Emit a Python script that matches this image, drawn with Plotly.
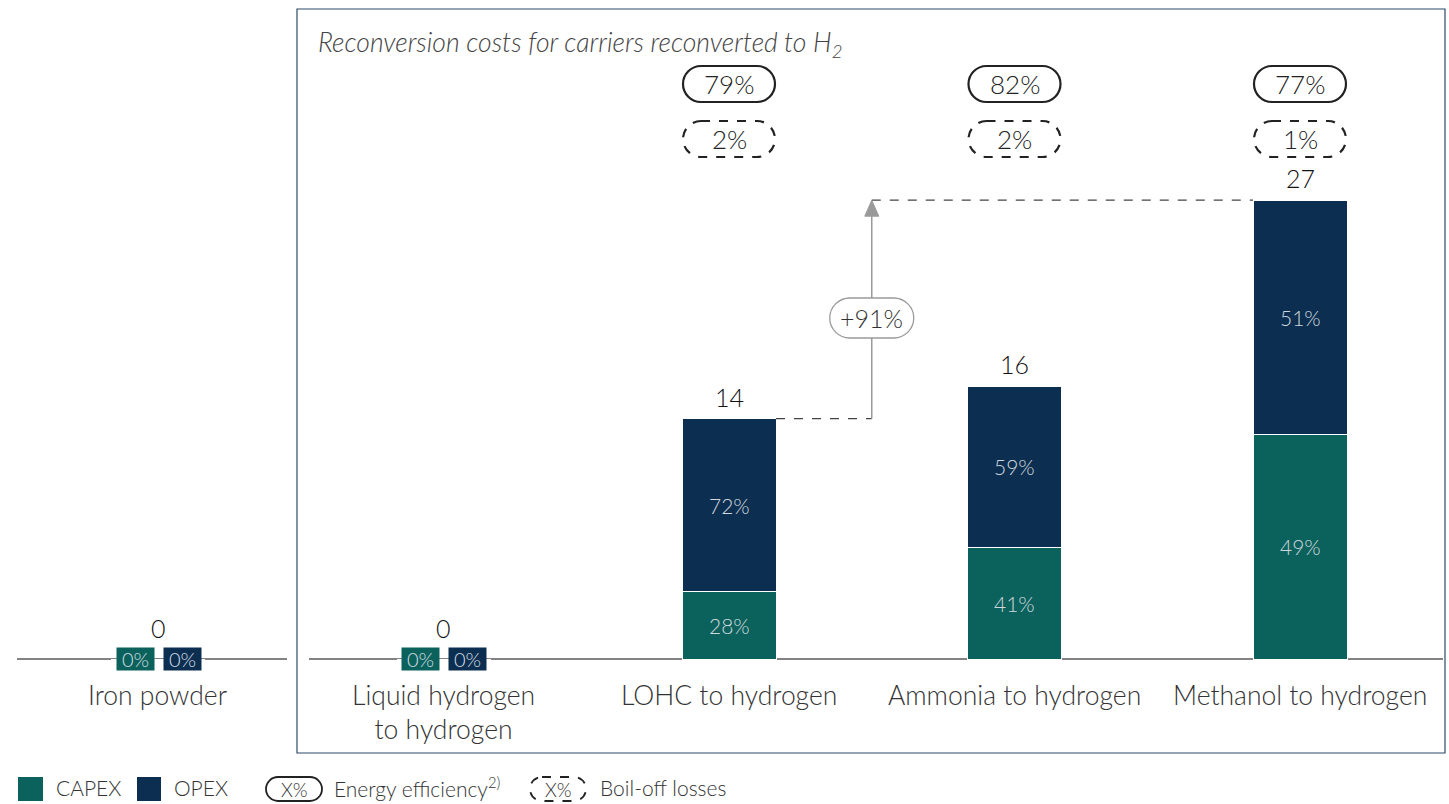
import plotly.graph_objects as go

# ---- data -------------------------------------------------------------
categories = ["Iron powder", "Liquid hydrogen<br>to hydrogen", "LOHC to hydrogen",
              "Ammonia to hydrogen", "Methanol to hydrogen"]
totals = [0, 0, 14.2, 16.1, 27.1]            # reconversion cost
capex_share = [0, 0, 28, 41, 49]             # % of total
opex_share = [0, 0, 72, 59, 51]              # % of total
efficiency = [None, None, "79%", "82%", "77%"]
boil_off = [None, None, "2%", "2%", "1%"]

CAPEX_COLOR = "#0b625c"
OPEX_COLOR = "#0c2e51"
FONT = "Lato"
WGT = 300

W, H = 1449, 804
# axis geometry: category i sits at pixel 158 + 285.5*i, baseline at pixel 659
PX_X = 285.5
PX_Y = 16.93
X0_PX, BASE_PX = 158, 659
x_range = [-X0_PX / PX_X, (W - X0_PX) / PX_X]
y_range = [-(H - BASE_PX) / PX_Y, BASE_PX / PX_Y]
BAR_W = 94 / PX_X

xs = list(range(len(categories)))
capex = [t * c / 100 for t, c in zip(totals, capex_share)]
opex = [t * o / 100 for t, o in zip(totals, opex_share)]


def f(size, color="#2b2b2b"):
    return dict(size=size, color=color, family=FONT, weight=WGT)


def py(p):
    """pixel row -> paper y"""
    return 1 - p / H


def px(p):
    """pixel column -> paper x"""
    return p / W


def pill_path(cx, cy, hw, hh, sx=1.0, sy=1.0):
    """rounded pill outline centred on (cx, cy); hw/hh in pixels, sx/sy px per unit"""
    r = hh
    w, h, rx, ry = hw / sx, hh / sy, r / sx, r / sy
    x0, x1, y0, y1 = cx - w, cx + w, cy - h, cy + h
    k = 0.5523
    return (f"M {x0+rx},{y1} L {x1-rx},{y1} "
            f"C {x1-rx+k*rx},{y1} {x1},{y1-ry+k*ry} {x1},{cy} "
            f"C {x1},{y0+ry-k*ry} {x1-rx+k*rx},{y0} {x1-rx},{y0} "
            f"L {x0+rx},{y0} "
            f"C {x0+rx-k*rx},{y0} {x0},{y0+ry-k*ry} {x0},{cy} "
            f"C {x0},{y1-ry+k*ry} {x0+rx-k*rx},{y1} {x0+rx},{y1} Z")


fig = go.Figure()
fig.add_trace(go.Bar(x=xs, y=capex, width=BAR_W, marker_color=CAPEX_COLOR,
                     marker_line=dict(color="white", width=1), name="CAPEX",
                     hoverinfo="skip"))
fig.add_trace(go.Bar(x=xs, y=opex, width=BAR_W, marker_color=OPEX_COLOR,
                     marker_line=dict(color="white", width=1), name="OPEX",
                     hoverinfo="skip"))

shapes = []
ann = []

# panel frame for the reconversion group
shapes.append(dict(type="rect", xref="paper", yref="paper",
                   x0=px(297), x1=px(1445), y0=py(753), y1=py(9),
                   line=dict(color="#2d4a68", width=1.2), layer="below"))
# baselines
shapes.append(dict(type="line", xref="paper", yref="y", x0=px(17), x1=px(287), y0=0, y1=0,
                   line=dict(color="#5a5a5a", width=1.5), layer="below"))
shapes.append(dict(type="line", xref="paper", yref="y", x0=px(309), x1=px(1443), y0=0, y1=0,
                   line=dict(color="#5a5a5a", width=1.5), layer="below"))

for i, cat in enumerate(categories):
    # category label
    ann.append(dict(x=i, y=py(677), xref="x", yref="paper", text=cat, showarrow=False,
                    yanchor="top", xanchor="center", font=f(26.5, "#333")))
    # total above the bar
    ann.append(dict(x=i, y=totals[i], xref="x", yref="y", text=f"{totals[i]:.0f}",
                    showarrow=False, yanchor="bottom", yshift=5 if totals[i] else 14,
                    font=f(25, "#111")))
    if totals[i] > 0:
        ann.append(dict(x=i, y=capex[i] / 2, xref="x", yref="y", text=f"{capex_share[i]}%",
                        showarrow=False, font=f(21, "#cfd6dc")))
        ann.append(dict(x=i, y=capex[i] + opex[i] / 2, xref="x", yref="y",
                        text=f"{opex_share[i]}%", showarrow=False, font=f(21, "#cfd6dc")))
    else:
        # zero-cost carriers: small share chips on the baseline
        for dx, col, share in ((-0.079, CAPEX_COLOR, capex_share[i]),
                               (0.085, OPEX_COLOR, opex_share[i])):
            ann.append(dict(x=i + dx, y=0, xref="x", yref="y", text=f"{share}%",
                            showarrow=False, bgcolor=col, borderpad=0, width=37, height=22,
                            font=f(20, "#d5dde3")))
    if efficiency[i]:
        cy = (BASE_PX - 84) / PX_Y
        shapes.append(dict(type="path", xref="x", yref="y",
                           path=pill_path(i, cy, 46, 18, PX_X, PX_Y),
                           line=dict(color="#222", width=2.2), fillcolor="white"))
        ann.append(dict(x=i, y=cy, xref="x", yref="y", text=efficiency[i],
                        showarrow=False, font=f(26, "#222")))
    if boil_off[i]:
        cy = (BASE_PX - 139) / PX_Y
        shapes.append(dict(type="path", xref="x", yref="y",
                           path=pill_path(i, cy, 46, 18, PX_X, PX_Y),
                           line=dict(color="#222", width=2.2, dash="dash"), fillcolor="white"))
        ann.append(dict(x=i, y=cy, xref="x", yref="y", text=boil_off[i],
                        showarrow=False, font=f(26, "#222")))

# LOHC -> Methanol cost step
lo, hi = totals[2], totals[4]
ax_x = 2.5
step_pct = round((hi / lo - 1) * 100)
shapes.append(dict(type="line", xref="x", yref="y", x0=2 + BAR_W / 2, x1=ax_x, y0=lo, y1=lo,
                   line=dict(color="#444", width=1.3, dash="dash")))
shapes.append(dict(type="line", xref="x", yref="y", x0=ax_x, x1=4 - BAR_W / 2, y0=hi, y1=hi,
                   line=dict(color="#444", width=1.3, dash="dash")))
shapes.append(dict(type="line", xref="x", yref="y", x0=ax_x, x1=ax_x, y0=lo,
                   y1=hi - 14 / PX_Y, line=dict(color="#9a9a9a", width=1.5)))
hx, hy = 7 / PX_X, 16 / PX_Y
shapes.append(dict(type="path", xref="x", yref="y",
                   path=f"M {ax_x-hx},{hi-hy} L {ax_x},{hi} L {ax_x+hx},{hi-hy} Z",
                   fillcolor="#9a9a9a", line=dict(color="#9a9a9a", width=1)))
mid_y = (BASE_PX - 318) / PX_Y
shapes.append(dict(type="path", xref="x", yref="y",
                   path=pill_path(ax_x, mid_y, 42, 20, PX_X, PX_Y),
                   line=dict(color="#9a9a9a", width=1.3), fillcolor="white"))
ann.append(dict(x=ax_x, y=mid_y, xref="x", yref="y", text=f"+{step_pct}%", showarrow=False,
                font=f(25, "#333")))

# panel title
ann.append(dict(x=px(316), y=py(44), xref="paper", yref="paper", xanchor="left",
                yanchor="middle",
                text="<i>Reconversion costs for carriers reconverted to H<sub>2</sub></i>",
                showarrow=False, font=f(26.5, "#444")))

# legend row
LY = 789
shapes.append(dict(type="rect", xref="paper", yref="paper", x0=px(18), x1=px(43),
                   y0=py(801), y1=py(777), fillcolor=CAPEX_COLOR, line_width=0))
shapes.append(dict(type="rect", xref="paper", yref="paper", x0=px(137), x1=px(161),
                   y0=py(801), y1=py(777), fillcolor=OPEX_COLOR, line_width=0))
shapes.append(dict(type="path", xref="paper", yref="paper",
                   path=pill_path(px(294), py(LY), 28, 12, W, H),
                   line=dict(color="#222", width=1.8), fillcolor="white"))
shapes.append(dict(type="path", xref="paper", yref="paper",
                   path=pill_path(px(558), py(LY), 28, 12, W, H),
                   line=dict(color="#222", width=1.8, dash="dash"), fillcolor="white"))
for x_px, txt in ((54, "CAPEX"), (172, "OPEX"), (332, "Energy efficiency<sup>2)</sup>"),
                  (598, "Boil-off losses")):
    ann.append(dict(x=px(x_px), y=py(LY - 2), xref="paper", yref="paper", xanchor="left",
                    yanchor="middle", text=txt, showarrow=False, font=f(21, "#333")))
for x_px in (294, 558):
    ann.append(dict(x=px(x_px), y=py(LY), xref="paper", yref="paper", text="X%",
                    xanchor="center", yanchor="middle", showarrow=False, font=f(19, "#333")))

fig.update_layout(
    width=W, height=H, autosize=False, barmode="stack", showlegend=False,
    margin=dict(l=0, r=0, t=0, b=0), paper_bgcolor="white", plot_bgcolor="white",
    xaxis=dict(range=x_range, visible=False, fixedrange=True),
    yaxis=dict(range=y_range, visible=False, fixedrange=True),
    shapes=shapes, annotations=ann, font=dict(family=FONT),
)
fig.write_html("out.html")
